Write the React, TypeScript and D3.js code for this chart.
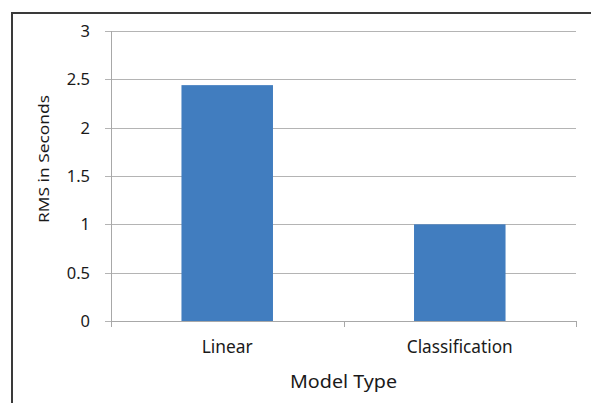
import React from "react";
import * as d3 from "d3";

const categories = ["Linear", "Classification"];
const rmsValues = [2.44, 1.0];
const yTicks = [0, 0.5, 1, 1.5, 2, 2.5, 3];
const yTickLabels = ["0", "0.5", "1", "1.5", "2", "2.5", "3"];
const xTitle = "Model Type";
const yTitle = "RMS in Seconds";

export default function App() {
  const W = 591;
  const H = 403;
  const left = 111;
  const right = 576;
  const top = 31;
  const bottom = 321;
  const font = "'Noto Sans', 'Open Sans', sans-serif";

  const x = d3
    .scaleBand<string>()
    .domain(categories)
    .range([left, right])
    .paddingInner(0.6065)
    .paddingOuter(0.303);
  const y = d3.scaleLinear().domain([0, 3]).range([bottom, top]);
  const step = x.step();
  const boundaries = [left, ...categories.map((c) => (x(c) as number) + x.bandwidth() / 2 + step / 2)];
  const catWidths = [51, 106];

  return (
    <svg
      width={W}
      height={H}
      style={{ position: "absolute", left: 0, top: 0, background: "#fff" }}
    >
      <rect x={0} y={0} width={W} height={H} fill="#fff" />
      {/* chart border */}
      <line x1={12} y1={13} x2={W} y2={13} stroke="#3a3a3a" strokeWidth={2} />
      <line x1={12} y1={12} x2={12} y2={H} stroke="#3a3a3a" strokeWidth={2} />

      {/* gridlines + y ticks */}
      {yTicks.map((t, i) => (
        <g key={i}>
          <line
            x1={105}
            x2={right}
            y1={Math.round(y(t)) + 0.5}
            y2={Math.round(y(t)) + 0.5}
            stroke="#b4b4b4"
            strokeWidth={1}
          />
          <text
            x={90}
            y={y(t)}
            dy="0.36em"
            textAnchor="end"
            fontFamily={font}
            fontSize={16.5}
            fill="#1a1a1a"
          >
            {yTickLabels[i]}
          </text>
        </g>
      ))}

      {/* y axis line */}
      <line x1={left + 0.5} x2={left + 0.5} y1={top} y2={bottom + 6} stroke="#a8a8a8" strokeWidth={1} />

      {/* bars */}
      {categories.map((c, i) => (
        <rect
          key={c}
          x={x(c)}
          y={y(rmsValues[i])}
          width={x.bandwidth()}
          height={bottom - y(rmsValues[i])}
          fill="#417DBF"
        />
      ))}

      {/* x axis line + ticks */}
      <line x1={left} x2={right} y1={bottom + 0.5} y2={bottom + 0.5} stroke="#a8a8a8" strokeWidth={1} />
      {boundaries.map((bx, i) => (
        <line
          key={i}
          x1={Math.round(bx) + 0.5}
          x2={Math.round(bx) + 0.5}
          y1={bottom}
          y2={bottom + 6}
          stroke="#a8a8a8"
          strokeWidth={1}
        />
      ))}

      {/* category labels */}
      {categories.map((c, i) => (
        <text
          key={c}
          x={(x(c) as number) + x.bandwidth() / 2}
          y={353}
          textAnchor="middle"
          fontFamily={font}
          fontSize={17.5}
          fill="#1a1a1a"
          textLength={catWidths[i]}
          lengthAdjust="spacingAndGlyphs"
        >
          {c}
        </text>
      ))}

      {/* axis titles */}
      <text
        x={(left + right) / 2}
        y={388}
        textAnchor="middle"
        fontFamily={font}
        fontSize={18.5}
        fill="#1a1a1a"
        textLength={107}
        lengthAdjust="spacingAndGlyphs"
      >
        {xTitle}
      </text>
      <text
        transform={`translate(49,159) rotate(-90)`}
        textAnchor="middle"
        fontFamily={font}
        fontSize={14}
        fill="#1a1a1a"
        textLength={128}
        lengthAdjust="spacingAndGlyphs"
      >
        {yTitle}
      </text>
    </svg>
  );
}
